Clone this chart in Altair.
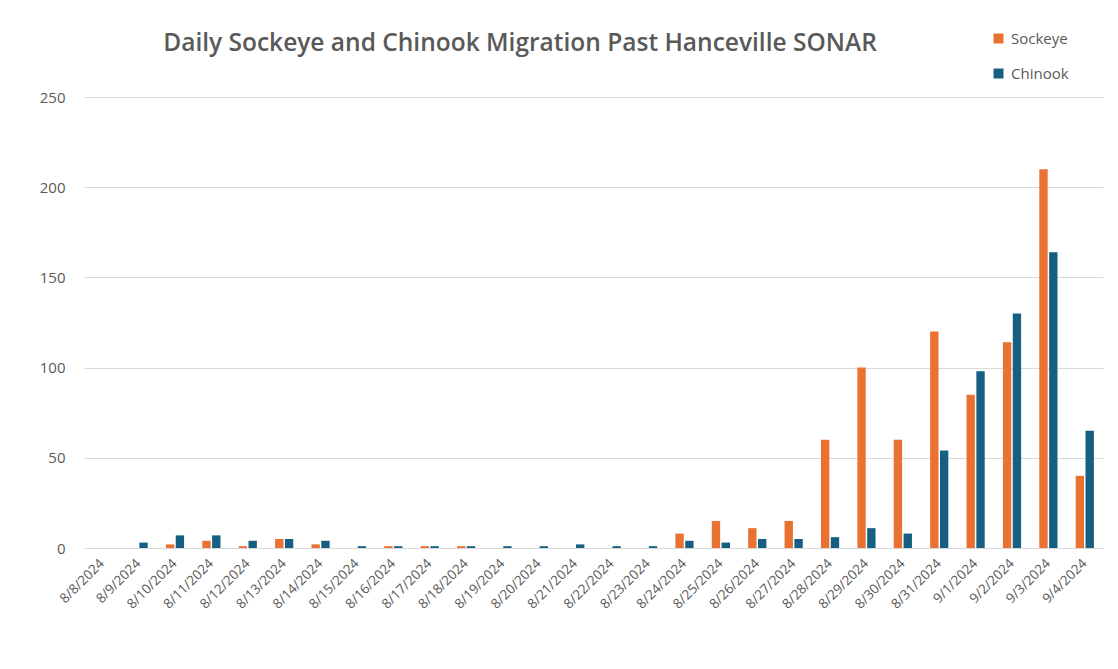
import altair as alt
import pandas as pd

dates = ["8/8/2024", "8/9/2024", "8/10/2024", "8/11/2024", "8/12/2024", "8/13/2024",
         "8/14/2024", "8/15/2024", "8/16/2024", "8/17/2024", "8/18/2024", "8/19/2024",
         "8/20/2024", "8/21/2024", "8/22/2024", "8/23/2024", "8/24/2024", "8/25/2024",
         "8/26/2024", "8/27/2024", "8/28/2024", "8/29/2024", "8/30/2024", "8/31/2024",
         "9/1/2024", "9/2/2024", "9/3/2024", "9/4/2024"]
sockeye = [0, 0, 2, 4, 1, 5, 2, 0, 1, 1, 1, 0, 0, 0, 0, 0, 8, 15, 11, 15,
           60, 100, 60, 120, 85, 114, 210, 40]
chinook = [0, 3, 7, 7, 4, 5, 4, 1, 1, 1, 1, 1, 1, 2, 1, 1, 4, 3, 5, 5,
           6, 11, 8, 54, 98, 130, 164, 65]
species = ["Sockeye", "Chinook"]
colors = ["#E97132", "#156082"]
title_text = ["Daily Sockeye and Chinook Migration Past Hanceville SONAR"]

rows = []
for d, s, c in zip(dates, sockeye, chinook):
    rows.append({"date": d, "species": "Sockeye", "count": s})
    rows.append({"date": d, "species": "Chinook", "count": c})
df = pd.DataFrame(rows)

gray = "#595959"

bars = alt.Chart(df).mark_bar().encode(
    x=alt.X("date:N", sort=dates, title=None,
            scale=alt.Scale(paddingInner=0.5, paddingOuter=0.25),
            axis=alt.Axis(labelAngle=315, labelAlign="right", labelBaseline="middle",
                          labelPadding=13, ticks=False, domainColor="#D9D9D9",
                          labelColor=gray, labelFontSize=13.5, labelFont="Open Sans",
                          grid=False)),
    xOffset=alt.XOffset("species:N", sort=species,
                        scale=alt.Scale(paddingInner=0.15)),
    y=alt.Y("count:Q", title=None,
            scale=alt.Scale(domain=[0, 250]),
            axis=alt.Axis(values=[0, 50, 100, 150, 200, 250], domain=False, ticks=False,
                          labelPadding=19, labelColor=gray, labelFontSize=15,
                          labelFont="Open Sans", gridColor="#D9D9D9", gridWidth=1)),
    color=alt.Color("species:N", sort=species,
                    scale=alt.Scale(domain=species, range=colors),
                    legend=alt.Legend(title=None, orient="none", legendX=907, legendY=-66,
                                      symbolType="square", symbolSize=100,
                                      symbolStrokeWidth=0, rowPadding=19,
                                      labelColor=gray, labelFontSize=15,
                                      labelFont="Open Sans", labelOffset=5)),
)

title = alt.Chart(pd.DataFrame({"t": title_text})).mark_text(
    font="Open Sans", fontSize=24.5, fontWeight=600, color=gray,
    align="center", baseline="middle",
).encode(
    text="t:N",
    x=alt.value(436),
    y=alt.value(-53),
)

chart = alt.layer(bars, title).properties(
    width=1019,
    height=451,
    padding={"left": 76, "top": 89, "right": 7, "bottom": 113},
    autosize=alt.AutoSizeParams(type="none"),
).configure_view(stroke=None)

chart.save("out.html", embed_options={"renderer": "svg", "actions": False})
